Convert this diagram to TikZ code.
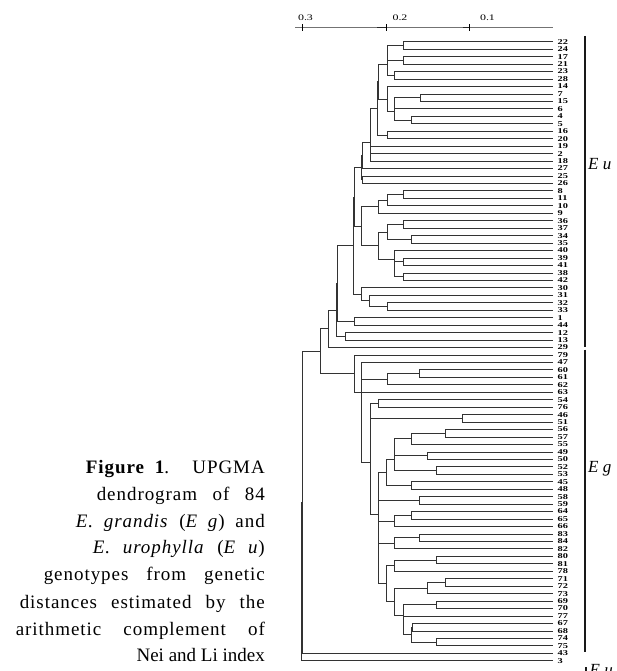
\documentclass[tikz,border=0pt]{standalone}
\usepackage{fontspec}
\setmainfont{Liberation Serif}
\usepackage{graphicx}
\usetikzlibrary{calc}

\tikzset{
  branch/.style={draw=black!80, line width=0.75pt},
  leaflab/.style={anchor=west, inner sep=0pt, font=\fontsize{7.4}{7.4}\selectfont\bfseries},
  scalelab/.style={anchor=base, inner sep=0pt, font=\fontsize{8.5}{8.5}\selectfont},
  grouplab/.style={anchor=base west, inner sep=0pt, font=\fontsize{17}{17}\selectfont\itshape},
  capline/.style={anchor=base east, inner sep=0pt, font=\fontsize{19}{19}\selectfont},
  groupbar/.style={draw=black!90, line width=2pt},
  axisline/.style={draw=black!55, line width=0.9pt},
  axistick/.style={draw=black, line width=0.8pt},
}

% horizontally widened label text
\newcommand\wide[1]{\scalebox{1.4}[1]{#1}}
% letter-spaced caption line of a given width
\newcommand\capfill[2]{{\addfontfeature{LetterSpace=5}\makebox[#1][s]{#2}}}

% join two clusters: #1 new cluster, #2 its x, #3 upper child, #4 lower child
\newcommand\jn[4]{%
  \path let \p1=(#3), \p2=(#4) in coordinate (#1) at (#2pt,{0.5*(\y1+\y2)});
  \draw[branch] (#3) -- (#3 -| #1) -- (#4 -| #1) -- (#4);
}

\begin{document}
\begin{tikzpicture}[x=1pt,y=-1pt]
\useasboundingbox (0,0) rectangle (616,671);

% distance scale
\coordinate (ax0) at (295,27.7);
\coordinate (ax1) at (553,27.7);
\draw[axisline] (ax0) -- (ax1);
\draw[black!85, line width=1.6pt] (377,27.7) -- (386,27.7);
\draw[black!85, line width=1.6pt] (462.7,27.7) -- (469.3,27.7);
\foreach \tx/\lx/\lab [count=\k] in {302.7/305.5/0.3, 386/400/0.2, 469.3/487.5/0.1}{
  \draw[axistick] (\tx,24.5) -- (\tx,31);
  \node[scalelab] (sc\k) at (\lx,20.8) {\wide{\lab}};
}

% genotypes (leaf tips and labels)
\foreach \lab [count=\i from 0] in {22,24,17,21,23,28,14,7,15,6,4,5,16,20,19,2,18,27,25,26,8,11,10,9,36,37,34,35,40,39,41,38,42,30,31,32,33,1,44,12,13,29,79,47,60,61,62,63,54,76,46,51,56,57,55,49,50,52,53,45,48,58,59,64,65,66,83,84,82,80,81,78,71,72,73,69,70,77,67,68,74,75,43,3}{
  \coordinate (t\lab) at (553,{41.7+7.458*\i});
  \node[leaflab] (l\lab) at (557.5,{41.7+7.458*\i}) {\wide{\lab}};
}

% E. urophylla group
\jn{a1}{403.3}{t22}{t24}
\jn{a2}{403.3}{t17}{t21}
\jn{a3}{387.6}{a1}{a2}
\jn{a4}{394.3}{t23}{t28}
\jn{A}{387.0}{a3}{a4}
\jn{b1}{420}{t7}{t15}
\jn{b2}{394.6}{b1}{t6}
\jn{b3}{411.7}{t4}{t5}
\jn{b4}{394.3}{b2}{b3}
\jn{B}{387.3}{t14}{b4}
\jn{AB}{378.5}{A}{B}
\jn{c1}{387.3}{t16}{t20}
\jn{C}{377.7}{AB}{c1}
\jn{d1}{370.3}{C}{t19}
\jn{d2}{370.3}{t2}{t18}
\jn{D}{370}{d1}{d2}
\jn{e1}{362}{D}{t27}
\jn{e2}{362}{t25}{t26}
\jn{E}{361.7}{e1}{e2}
\jn{h1}{403.3}{t8}{t11}
\jn{h2}{387.3}{h1}{t10}
\jn{H}{378.3}{h2}{t9}
\jn{k1}{403.3}{t36}{t37}
\jn{k2}{411.7}{t34}{t35}
\jn{K}{387.3}{k1}{k2}
\jn{j1}{403.3}{t39}{t41}
\jn{j2}{403.3}{t38}{t42}
\jn{j3}{394.6}{j1}{j2}
\jn{J}{394.3}{t40}{j3}
\jn{I}{378.3}{K}{J}
\jn{F}{361.7}{H}{I}
\jn{g1}{387.3}{t32}{t33}
\jn{g2}{369.3}{t31}{g1}
\jn{G}{361.7}{t30}{g2}
\jn{EF}{354.3}{E}{F}
\jn{EFG}{353.6}{EF}{G}
\jn{p1}{354}{t1}{t44}
\jn{P}{336.9}{EFG}{p1}
\jn{q1}{345}{t12}{t13}
\jn{L}{336.5}{P}{q1}
\jn{Eu}{328.3}{L}{t29}

% E. grandis group
\jn{x1}{419.3}{t60}{t61}
\jn{x62}{387.3}{x1}{t62}
\jn{u1}{378.3}{t54}{t76}
\jn{u2}{462.3}{t46}{t51}
\jn{u3}{370.5}{u1}{u2}
\jn{r1}{445}{t56}{t57}
\jn{r2}{411.7}{r1}{t55}
\jn{r3}{427.7}{t49}{t50}
\jn{r4}{394.6}{r2}{r3}
\jn{r5}{436.7}{t52}{t53}
\jn{r6}{394.3}{r4}{r5}
\jn{r7}{411.7}{t45}{t48}
\jn{RR}{386.7}{r6}{r7}
\jn{s1}{419.3}{t58}{t59}
\jn{s2}{378.6}{RR}{s1}
\jn{s3}{411.7}{t64}{t65}
\jn{s4}{394.3}{s3}{t66}
\jn{s5}{419.8}{t83}{t84}
\jn{s6}{394.3}{s5}{t82}
\jn{v1}{436.7}{t80}{t81}
\jn{v2}{394.3}{v1}{t78}
\jn{w1}{445}{t71}{t72}
\jn{w2}{427.7}{w1}{t73}
\jn{w3}{436.7}{t69}{t70}
\jn{w4}{411.9}{t67}{t68}
\jn{w5}{436.7}{t74}{t75}
\jn{w6}{411.7}{w4}{w5}
\jn{w7}{403.5}{t77}{w6}
\jn{V}{403.3}{w3}{w7}
\jn{U}{394.3}{w2}{V}
\jn{T}{386.7}{v2}{U}
\jn{s7}{378.5}{s6}{T}
\jn{s8}{378.4}{s4}{s7}
\jn{S}{378.2}{s2}{s8}
\jn{Q2}{370}{u3}{S}
\jn{qa}{361.7}{t47}{x62}
\jn{qb}{361.7}{qa}{Q2}
\jn{Eg}{354}{t79}{t63}

% root
\jn{M}{320}{Eu}{Eg}
\jn{r0}{301.9}{M}{t43}
\jn{root}{301.7}{r0}{t3}

% group bars and names
\draw[groupbar] (585,36) -- (585,347);
\draw[groupbar] (585,349.5) -- (585,651.5);
\draw[groupbar] (586,667) -- (586,680);
\node[grouplab] (geu) at (588,170) {E~u};
\node[grouplab] (geg) at (588,472.5) {E~g};
\node[grouplab] (geu2) at (589.5,675) {E~u};

% caption
\node[capline] (cap1) at (265,473.3) {\capfill{179pt}{\textbf{Figure 1}. UPGMA}};
\node[capline] (cap2) at (265,500) {\capfill{168pt}{dendrogram of 84}};
\node[capline] (cap3) at (265,527.3) {\capfill{189pt}{\textit{E. grandis} (\textit{E g}) and}};
\node[capline] (cap4) at (265,553.3) {\capfill{172pt}{\textit{E. urophylla} (\textit{E u})}};
\node[capline] (cap5) at (265,580) {\capfill{221pt}{genotypes from genetic}};
\node[capline] (cap6) at (265,608.3) {\capfill{245pt}{distances estimated by the}};
\node[capline] (cap7) at (265,635) {\capfill{249pt}{arithmetic complement of}};
\node[capline] (cap8) at (265,661.7) {Nei and Li index};
\end{tikzpicture}
\end{document}
